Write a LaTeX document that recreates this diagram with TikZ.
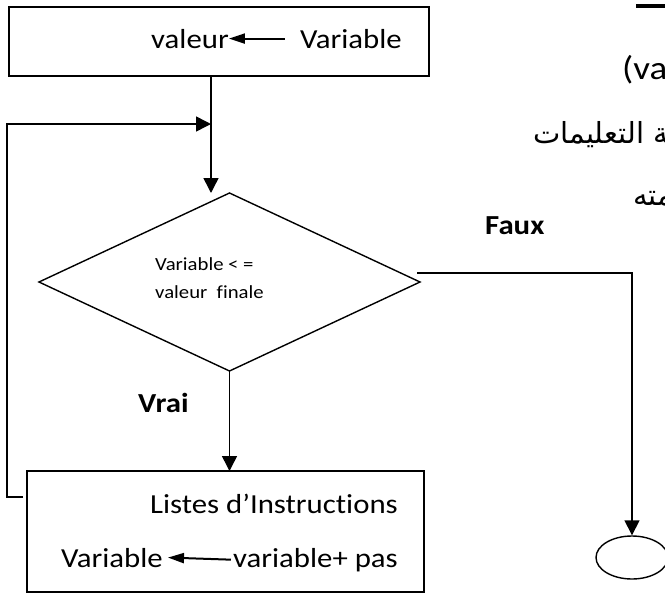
\documentclass[tikz,border=0pt]{standalone}
\usepackage{fontspec}
\setmainfont{Carlito}[FakeStretch=1.12, Ligatures=NoCommon]
\newfontfamily\arabicfont[Script=Arabic]{DejaVu Sans}
\TeXXeTstate=1
\usetikzlibrary{arrows.meta,positioning,shapes.geometric}

\begin{document}
\begin{tikzpicture}[
  x=1pt, y=-1pt,
  font=\fontsize{27.5}{33}\selectfont,
  box/.style={draw, line width=1.6pt, inner sep=0pt, outer sep=0pt},
  cond/.style={draw, diamond, line width=1.4pt, inner sep=0pt, outer sep=0pt,
    minimum width=381pt, minimum height=178pt},
  stopnode/.style={draw, ellipse, line width=1.4pt, inner sep=0pt,
    minimum width=72pt, minimum height=43pt},
  word/.style={inner sep=0pt},
  lbl/.style={inner sep=0pt, font=\fontsize{27.5}{33}\selectfont\bfseries},
  tip/.style={-{Triangle[length=15pt, width=15pt]}, line width=1.5pt},
  mini/.style={-{Triangle[length=16pt, width=10pt]}, line width=2pt}
]
  \useasboundingbox (0,0) rectangle (665,595);
  \clip (0,0) rectangle (665,595);

  % bits of the page text around the chart
  \fill (636,4) rectangle (665,8);
  \node[word, anchor=base west, font=\fontsize{33}{38}\selectfont]
    (pagevar) at (622,79) {(va};
  \node[word, anchor=base west, font=\arabicfont\fontsize{29}{34}\selectfont]
    (pageline) at (533,143) {\beginR مجموعة التعليمات\endR};
  \node[word, anchor=base west, font=\arabicfont\fontsize{29}{34}\selectfont]
    (pageword) at (633,205) {\beginR قيمته\endR};

  % initialisation
  \node[box, minimum width=420pt, minimum height=69pt] (init) at (219,41.5) {};
  \node[word, anchor=base east] (initvar) at (402,48) {Variable};
  \node[word, base left=71pt of initvar] (initval) {valeur};
  \draw[mini] ([xshift=-15pt]initvar.west) -- (initval.east);

  % test
  \node[cond] (test) at (229.5,282) {};
  \node[word, align=left, anchor=north west, font=\fontsize{18.5}{28}\selectfont]
    (testtxt) at (155,257) {Variable < =\\valeur~ finale};

  % loop body
  \node[box, minimum width=397pt, minimum height=121pt] (body) at (225.5,531.5) {};
  \node[word, anchor=base east] (steps) at (398,513) {Listes d’Instructions};
  \node[word, anchor=base east] (incr) at (398,567) {variable+ pas};
  \node[word, base left=70pt of incr] (newvar) {Variable};
  \draw[mini] ([xshift=-2pt]incr.west) -- ([xshift=5pt]newvar.east);

  % end
  \node[stopnode] (stop) at (632,557.5) {};

  \node[lbl, anchor=base west] at (138,412) {Vrai};
  \node[lbl, anchor=base west] at (485,234) {Faux};

  % connectors
  \coordinate (join) at (211,124);
  \draw[tip] (init.south -| join) -- (join |- test.north);
  \draw[tip] (test.south) -- (test.south |- body.north);
  \draw[tip] ([shift={(-4,26)}]body.north west) -- ++(-16,0) |- (join);
  \draw[tip] ([shift={(-3,-9)}]test.east) -| (stop.north);
\end{tikzpicture}
\end{document}
